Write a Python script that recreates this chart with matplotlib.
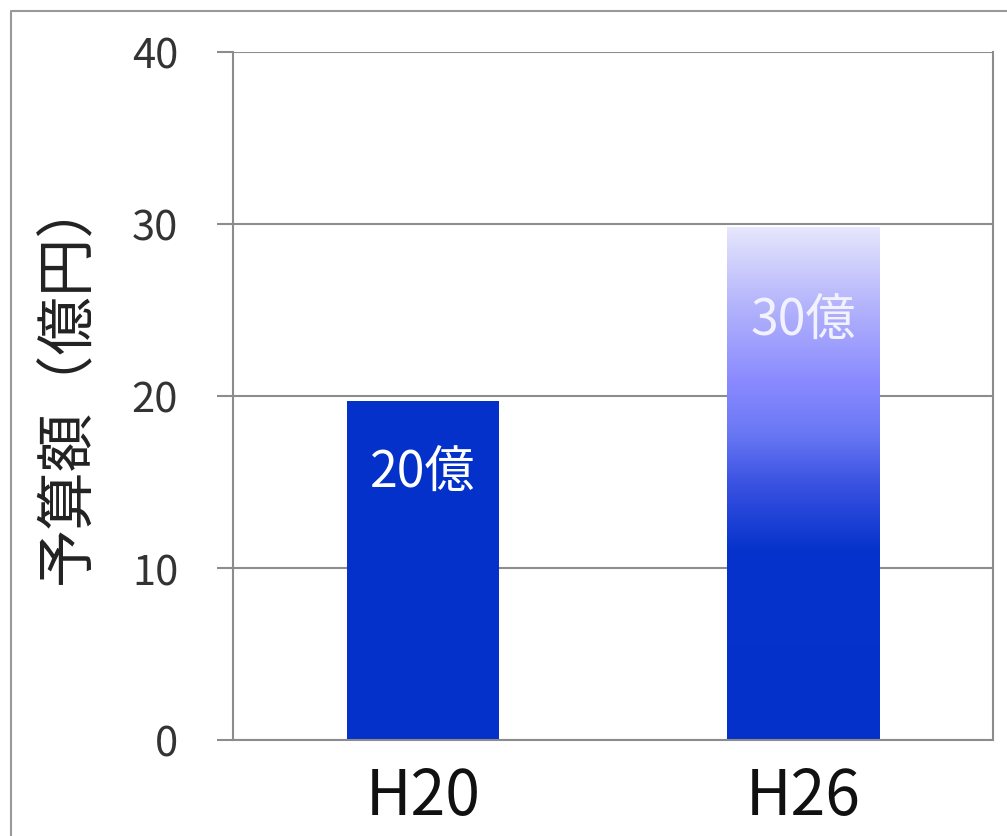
import numpy as np
import matplotlib
matplotlib.use('Agg')
import matplotlib.pyplot as plt
from matplotlib.colors import LinearSegmentedColormap
from matplotlib.lines import Line2D

# data
categories = ['H20', 'H26']
values = [19.7, 29.8]
bar_labels = ['20億', '30億']
yticks = [0, 10, 20, 30, 40]

plt.rcParams['font.family'] = ['Noto Sans CJK JP', 'DejaVu Sans']

BLUE = '#0331c9'
GRID = '#8c8c8c'


def main():
    fig = plt.figure(figsize=(10.07, 8.37), dpi=100)
    ax = fig.add_axes([233 / 1007, 1 - 741 / 837, 760 / 1007, 688 / 837])

    x = np.arange(len(categories))
    bars = ax.bar(x, values, width=0.4, color=BLUE, zorder=2)

    # gradient fill on the second bar, clipped to its rectangle
    grad = LinearSegmentedColormap.from_list('grad', [
        (0.0, BLUE), (0.37, '#0633cb'), (0.5, '#3a52e2'),
        (0.6, '#6a78f4'), (0.7, '#8a8aff'), (0.85, '#b4b4fc'), (1.0, '#e6e6fd')])
    b = bars[1]
    b.set_facecolor('none')
    img = ax.imshow(np.linspace(0, 1, 256).reshape(-1, 1), cmap=grad, origin='lower',
                    aspect='auto', zorder=2,
                    extent=[b.get_x(), b.get_x() + b.get_width(), 0, b.get_height()])
    img.set_clip_path(b)

    ax.set_xlim(-0.5, 1.5)
    ax.set_ylim(0, 40)
    ax.set_yticks(yticks)
    ax.yaxis.grid(True, color=GRID, linewidth=1.5, zorder=0)
    ax.set_axisbelow(True)

    for side in ['left', 'right', 'bottom']:
        ax.spines[side].set_color(GRID)
        ax.spines[side].set_linewidth(1.5)
    ax.spines['top'].set_visible(False)

    ax.tick_params(axis='y', length=11.5, width=1.5, color=GRID, pad=28,
                   labelsize=30, labelcolor='#333333')
    ax.set_xticks(x)
    ax.set_xticklabels(categories)
    ax.tick_params(axis='x', length=0, pad=17, labelsize=45, labelcolor='#111111')

    label_colors = ['white', '#f2f2ff']
    label_pos = [0.79, 0.82]
    for xi, v, lab, c, p in zip(x, values, bar_labels, label_colors, label_pos):
        ax.text(xi, v * p, lab, ha='center', va='center', fontsize=36,
                color=c, zorder=3)

    fig.text(68 / 1007, 1 - 380 / 837, '予算額（億円）', rotation=90,
             ha='center', va='center', fontsize=42, color='#222222')

    # outer frame, only top and left edges show
    fig.add_artist(Line2D([11 / 1007, 11 / 1007, 1.0], [0.0, 1 - 12 / 837, 1 - 12 / 837],
                          transform=fig.transFigure, color='#999999', linewidth=1.5))

    fig.savefig('out.png', dpi=100)


if __name__ == "__main__":
    main()
